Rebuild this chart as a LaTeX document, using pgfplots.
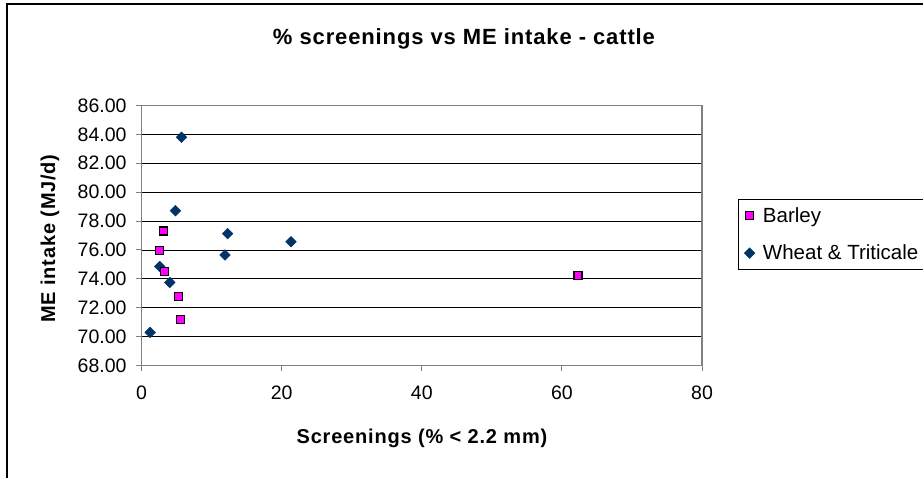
\documentclass[border=0pt]{standalone}
\usepackage{fontspec}
\setmainfont{Liberation Sans}
\newfontfamily\spaced[LetterSpace=4]{Liberation Sans}
\usepackage{pgfplots}
\pgfplotsset{compat=1.18}
\definecolor{wheat}{RGB}{0,51,102}
\definecolor{barley}{RGB}{255,0,255}
\definecolor{axgray}{RGB}{128,128,128}

\pgfplotstableread{
x y
3.09 77.31
2.52 75.97
3.33 74.52
5.23 72.76
5.56 71.17
62.3 74.25
}\barley

\pgfplotstableread{
x y
5.70 83.80
4.85 78.72
12.30 77.13
11.92 75.65
21.33 76.57
2.61 74.85
4.04 73.75
1.24 70.29
}\wheat

\begin{document}
\begin{tikzpicture}[x=1pt,y=1pt]
\begin{axis}[
  at={(141.5pt,111.5pt)}, anchor=south west,
  scale only axis, width=560.5pt, height=260pt,
  xmin=0, xmax=80, ymin=68, ymax=86,
  xtick={0,20,...,80}, ytick={68,70,...,86},
  ymajorgrids, grid style={black, line width=0.8pt},
  axis line style={axgray, line width=1.5pt},
  tick align=outside, major tick length=5.5pt,
  tick style={axgray, line width=1pt},
  xtick pos=left, ytick pos=left,
  ticklabel style={font=\fontsize{19.5}{22}\selectfont},
  /pgf/number format/assume math mode=true,
  yticklabel style={xshift=-6pt, /pgf/number format/.cd, fixed, fixed zerofill, precision=2},
  xticklabel style={yshift=-11pt, /pgf/number format/.cd, fixed, precision=0},
  reverse legend,
  legend style={at={(axis description cs:1.0637,0.640)}, anchor=north west,
    draw=black, line width=1pt, font=\fontsize{20.5}{22}\selectfont,
    row sep=17pt, column sep=6pt, inner ysep=6pt, inner xsep=6pt},
  legend cell align=left,
]
% diamonds drawn as squares turned by 45 degrees
\addplot[only marks, mark=square*, mark size=3.8pt, draw=wheat, fill=wheat, mark options={rotate=45, line width=0.4pt}] table {\wheat};
\addlegendentry{Wheat \& Triticale}
\addplot[only marks, mark=square*, mark size=4.0pt, draw=black, fill=barley, mark options={line width=1.2pt}] table {\barley};
\addlegendentry{Barley}
\end{axis}
% chart frame
\draw[line width=2.2pt] (7,-5) -- (7,473) -- (930,473);
% title and axis titles
\node[font=\spaced\bfseries\fontsize{22}{26}\selectfont, anchor=base] at (464,432) {\% screenings vs ME intake - cattle};
\node[font=\spaced\bfseries\fontsize{20}{24}\selectfont, rotate=90, anchor=base] at (55,238.5) {ME intake (MJ/d)};
\node[font=\spaced\bfseries\fontsize{20}{24}\selectfont, anchor=base] at (422,34) {Screenings (\% < 2.2 mm)};
\pgfresetboundingbox
\path[use as bounding box] (0,0) rectangle (923,477);
\end{tikzpicture}
\end{document}
